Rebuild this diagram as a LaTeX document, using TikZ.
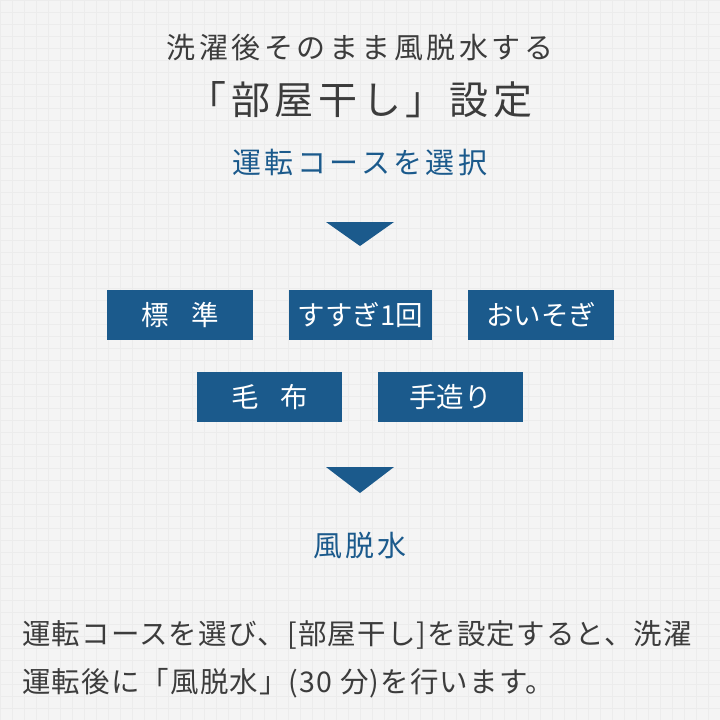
\documentclass[tikz,border=0pt]{standalone}
\usepackage{fontspec}
\setmainfont{Noto Sans CJK JP}
\newfontfamily\jpwide[LetterSpace=12]{Noto Sans CJK JP}
\newfontfamily\jpnote[LetterSpace=4]{Noto Sans CJK JP}
\usetikzlibrary{positioning}
\definecolor{washblue}{HTML}{1B5A8C}
\definecolor{inkgray}{HTML}{3C3C3C}
\definecolor{paper}{HTML}{F4F4F4}
\definecolor{gridline}{HTML}{ECECEC}

\tikzset{
  coursebox/.style={fill=washblue,text=white,minimum width=146pt,minimum height=50pt,inner sep=0pt,font=\fontsize{27.5}{27.5}\selectfont},
  headtext/.style={text=inkgray,inner sep=0pt},
  bluetext/.style={text=washblue,inner sep=0pt,font=\jpwide\fontsize{29}{29}\selectfont},
  downmark/.style={fill=washblue,draw=none}
}

\begin{document}
\begin{tikzpicture}[x=1pt,y=-1pt]
\useasboundingbox (0,0) rectangle (720,720);
\fill[paper] (0,0) rectangle (720,720);
% faint grid
\foreach \g in {0,12,...,720} {
  \draw[gridline,line width=0.6pt] (\g,0) -- (\g,720);
  \draw[gridline,line width=0.6pt] (0,\g) -- (720,\g);
}

\node[headtext,font=\jpwide\fontsize{29}{29}\selectfont] (title) at (360,48) {洗濯後そのまま風脱水する};
\node[headtext,font=\jpwide\fontsize{39}{39}\selectfont] (setting) at (360,100) {「部屋干し」設定};
\node[bluetext] (select) at (360,163) {運転コースを選択};

\coordinate (t1a) at (326,222);
\coordinate (t1b) at (394,222);
\coordinate (t1c) at (360,246);
\fill[downmark] (t1a) -- (t1b) -- (t1c) -- cycle;

\node[coursebox] (std) at (180,315) {標\hspace{0.8em}準};
\node[coursebox,minimum width=143pt] (rinse) at (360.5,315) {すすぎ1回};
\node[coursebox] (quick) at (541,315) {おいそぎ};
\node[coursebox,minimum width=145pt] (blanket) at (269.5,397) {毛\hspace{0.8em}布};
\node[coursebox,minimum width=145pt] (hand) at (450.5,397) {手造り};

\coordinate (t2a) at (326,467);
\coordinate (t2b) at (394,467);
\coordinate (t2c) at (360,493);
\fill[downmark] (t2a) -- (t2b) -- (t2c) -- cycle;

\node[bluetext] (dry) at (360,546) {風脱水};

\node[headtext,anchor=west,font=\jpnote\fontsize{28.5}{28.5}\selectfont] (note1) at (22,635) {運転コースを選び、[部屋干し]を設定すると、洗濯};
\node[headtext,anchor=west,font=\jpnote\fontsize{28.5}{28.5}\selectfont] (note2) at (22,683) {運転後に「風脱水」(30 分)を行います。};
\end{tikzpicture}
\end{document}
